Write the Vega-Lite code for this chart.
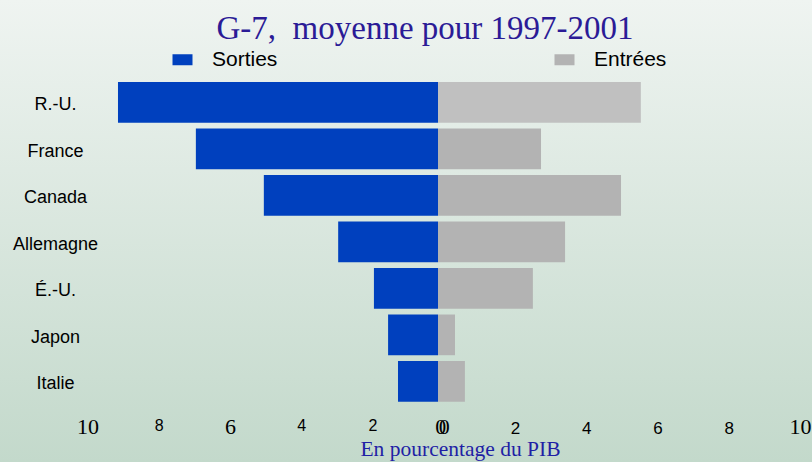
{
  "$schema": "https://vega.github.io/schema/vega-lite/v6.json",
  "width": 812,
  "height": 462,
  "autosize": {"type": "none"},
  "padding": 0,
  "background": "#dbe7df",
  "title": {
    "text": "G-7,\u00a0 moyenne pour 1997-2001",
    "anchor": "middle",
    "frame": "group",
    "font": "Liberation Serif",
    "fontSize": 33,
    "fontWeight": "normal",
    "color": "#2b1b96",
    "baseline": "alphabetic",
    "offset": 0,
    "dx": 19,
    "dy": 72
  },
  "data": {
    "values": [
      {"pays": "R.-U.", "sorties": 9.04, "entrees": 5.73},
      {"pays": "France", "sorties": 6.84, "entrees": 2.91},
      {"pays": "Canada", "sorties": 4.92, "entrees": 5.17},
      {"pays": "Allemagne", "sorties": 2.82, "entrees": 3.59},
      {"pays": "É.-U.", "sorties": 1.81, "entrees": 2.68},
      {"pays": "Japon", "sorties": 1.41, "entrees": 0.48},
      {"pays": "Italie", "sorties": 1.13, "entrees": 0.76}
    ]
  },
  "layer": [
    {
      "mark": {"type": "bar"},
      "encoding": {
        "y": {
          "field": "pays",
          "type": "nominal",
          "sort": null,
          "scale": {"range": [82, 401.7], "paddingInner": 0.125, "paddingOuter": 0},
          "axis": {
            "orient": "left",
            "offset": -88,
            "title": null,
            "domain": false,
            "ticks": false,
            "tickSize": 0,
            "labelPadding": 33,
            "labelAlign": "center",
            "labelBaseline": "middle",
            "labelFont": "Liberation Sans",
            "labelFontSize": 18,
            "labelColor": "#000000",
            "labelOffset": 3,
            "grid": false
          }
        },
        "x": {
          "field": "sorties",
          "type": "quantitative",
          "scale": {"domain": [-10.565, 12.373], "reverse": true, "nice": false, "zero": false},
          "axis": null
        },
        "color": {
          "datum": "Sorties",
          "type": "nominal",
          "scale": {"domain": ["Sorties", "Entrées"], "range": ["#0040be", "#b3b3b3"]},
          "legend": {
            "orient": "none",
            "legendX": 172,
            "legendY": 49,
            "direction": "horizontal",
            "title": null,
            "symbolType": "M-1,-0.55H1V0.55H-1Z",
            "symbolSize": 400,
            "symbolStrokeWidth": 0,
            "labelFont": "Liberation Sans",
            "labelFontSize": 21,
            "labelColor": "#000000",
            "labelOffset": 19,
            "columnPadding": 276,
            "labelLimit": 300
          }
        }
      }
    },
    {
      "mark": {"type": "bar"},
      "encoding": {
        "y": {"field": "pays", "type": "nominal", "sort": null},
        "x": {
          "field": "entrees",
          "type": "quantitative",
          "scale": {"domain": [-12.373, 10.565], "nice": false, "zero": false},
          "axis": null
        },
        "color": {
          "condition": {"test": "datum.pays === 'R.-U.'", "value": "#c0c0c0"},
          "datum": "Entrées",
          "type": "nominal"
        }
      }
    },
    {
      "mark": {"type": "rule", "opacity": 0},
      "encoding": {
        "x": {
          "datum": 0,
          "type": "quantitative",
          "scale": {"domain": [-12.456, 10.337], "nice": false, "zero": false},
          "axis": {
            "orient": "bottom",
            "offset": -60.3,
            "values": [-10, -8, -6, -4, -2, -0.1, 0, 2, 4, 6, 8, 10],
            "labelExpr": "'' + abs(round(datum.value))",
            "domain": false,
            "ticks": false,
            "tickSize": 0,
            "grid": false,
            "labelOverlap": false,
            "labelFlush": false,
            "labelBound": false,
            "labelPadding": 31.3,
            "labelBaseline": {
              "condition": {"test": "datum.value == -8 || datum.value == -4 || datum.value == -2", "value": "bottom"},
              "value": "alphabetic"
            },
            "labelAlign": "center",
            "labelColor": "#000000",
            "labelFont": {
              "condition": {"test": "abs(datum.value) >= 9.5 || datum.value == -6 || abs(datum.value) < 0.5", "value": "Liberation Serif"},
              "value": "Liberation Sans"
            },
            "labelFontSize": {
              "condition": [
                {"test": "abs(datum.value) >= 9.5 || datum.value == -6 || abs(datum.value) < 0.5", "value": 22},
                {"test": "datum.value < 0", "value": 16}
              ],
              "value": 17
            },
            "title": "En pourcentage du PIB",
            "titleFont": "Liberation Serif",
            "titleFontSize": 21.5,
            "titleFontWeight": "normal",
            "titleColor": "#1f1fa5",
            "titleX": 460,
            "titleY": 53.3,
            "titleAlign": "center",
            "titleBaseline": "alphabetic"
          }
        }
      }
    }
  ],
  "resolve": {"scale": {"x": "independent"}, "axis": {"x": "independent"}},
  "config": {
    "view": {
      "stroke": null,
      "fill": {
        "gradient": "linear",
        "x1": 0, "y1": 0, "x2": 0, "y2": 1,
        "stops": [
          {"offset": 0, "color": "#eff4f1"},
          {"offset": 1, "color": "#c3d9cb"}
        ]
      }
    },
    "axis": {"grid": false}
  }
}
